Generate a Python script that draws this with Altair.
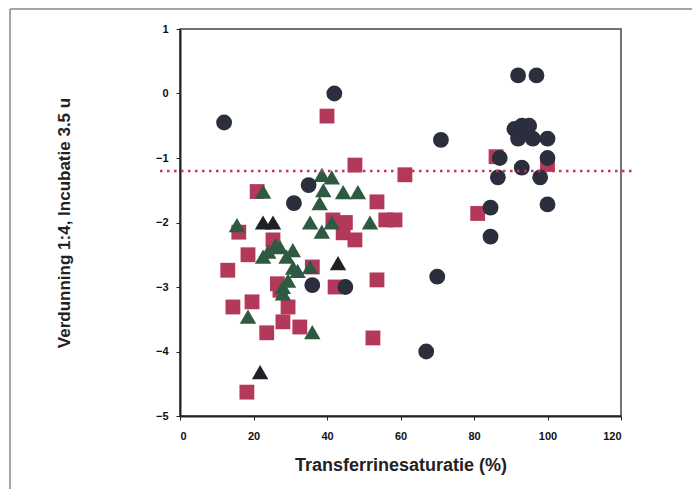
import altair as alt
import pandas as pd

# Series values
circle_x = [12, 42, 92, 97, 71, 91, 93, 95, 94, 92, 96, 100, 100, 87, 93, 86.5, 98, 100, 84.5, 84.5, 70, 67, 31, 35, 36, 45]
circle_y = [-0.45, 0.0, 0.28, 0.28, -0.72, -0.55, -0.5, -0.5, -0.6, -0.7, -0.7, -0.7, -1.0, -1.0, -1.15, -1.3, -1.3, -1.72, -1.77, -2.22, -2.84, -4.0, -1.7, -1.42, -2.97, -3.0]

square_x = [40, 47.6, 61.2, 86, 100, 81, 21, 53.6, 16, 41.6, 45, 56, 58.5, 44.4, 47.6, 13, 18.5, 25.3, 53.6, 42.2, 36, 14.4, 19.6, 23.6, 28, 29.4, 32.6, 52.5, 18.2, 27.2, 26.5]
square_y = [-0.35, -1.11, -1.26, -0.98, -1.1, -1.86, -1.52, -1.68, -2.15, -1.96, -2.0, -1.96, -1.96, -2.16, -2.27, -2.74, -2.5, -2.27, -2.89, -3.0, -2.69, -3.31, -3.23, -3.71, -3.54, -3.31, -3.62, -3.79, -4.63, -3.05, -2.95]

tri_x = [38.6, 41.3, 39, 44.4, 48.4, 38, 22.6, 15.5, 35.4, 38.6, 41.3, 51.7, 27.2, 22.6, 30.7, 29, 35.4, 30.8, 29.4, 28, 18.5, 36, 28, 26, 24, 32]
tri_y = [-1.26, -1.3, -1.5, -1.53, -1.53, -1.7, -1.52, -2.04, -2.0, -2.14, -2.0, -2.0, -2.38, -2.53, -2.43, -2.53, -2.69, -2.7, -2.9, -3.0, -3.46, -3.7, -3.1, -2.35, -2.45, -2.75]

dark_tri_x = [22.6, 25.3, 43, 21.8]
dark_tri_y = [-2.0, -2.0, -2.63, -4.32]

threshold = [-1.2]

x_ticks = [0, 20, 40, 60, 80, 100, 120]
y_ticks = [1, 0, -1, -2, -3, -4, -5]

FONT = "Liberation Sans"

circles = pd.DataFrame({"x": circle_x, "y": circle_y})
squares = pd.DataFrame({"x": square_x, "y": square_y})
tris = pd.DataFrame({"x": tri_x, "y": tri_y})
dtris = pd.DataFrame({"x": dark_tri_x, "y": dark_tri_y})
thr = pd.DataFrame({"y": threshold})

xenc = alt.X("x:Q", scale=alt.Scale(domain=[0, 120], nice=False),
             axis=alt.Axis(values=x_ticks, format="d", title="Transferrinesaturatie (%)", grid=False,
                           labelFont=FONT, labelFontWeight="bold", labelFontSize=11, labelColor="#111",
                           titleFont=FONT, titleFontWeight="bold", titleFontSize=18, titleColor="#222",
                           titlePadding=15, labelPadding=10, tickSize=4, tickColor="#222",
                           domainColor="#222", domainWidth=2))
yenc = alt.Y("y:Q", scale=alt.Scale(domain=[-5, 1], nice=False),
             axis=alt.Axis(values=y_ticks, format="d", title="Verdunning 1:4, Incubatie 3.5 u", grid=False,
                           labelFont=FONT, labelFontWeight="bold", labelFontSize=11, labelColor="#111",
                           titleFont=FONT, titleFontWeight="bold", titleFontSize=17, titleColor="#222",
                           titlePadding=82, labelPadding=8, tickSize=4, tickColor="#222",
                           domainColor="#222", domainWidth=2))

sq = alt.Chart(squares).mark_point(shape="square", filled=True, size=220, opacity=1,
                                    color="#b3395a").encode(x=xenc, y=yenc)
tr = alt.Chart(tris).mark_point(shape="triangle-up", filled=True, size=270, opacity=1,
                                 color="#2f5a42").encode(x="x:Q", y="y:Q")
dtr = alt.Chart(dtris).mark_point(shape="triangle-up", filled=True, size=270, opacity=1,
                                   color="#1e2125").encode(x="x:Q", y="y:Q")
ci = alt.Chart(circles).mark_point(shape="circle", filled=True, size=250, opacity=1,
                                    color="#2a2e3d").encode(x="x:Q", y="y:Q")

line = alt.Chart(thr).mark_rule(color="#c2365e", strokeWidth=2.5, strokeDash=[2.5, 4.5],
                                 clip=False).encode(y="y:Q", x=alt.value(-20), x2=alt.value(452))

frame_top = alt.Chart(thr).mark_rule(color="#888", strokeWidth=1.5, clip=False).encode(
    x=alt.value(-170), x2=alt.value(520), y=alt.value(-20))
frame_left = alt.Chart(thr).mark_rule(color="#888", strokeWidth=1.5, clip=False).encode(
    x=alt.value(-170), y=alt.value(-20), y2=alt.value(480))

chart = alt.layer(frame_top, frame_left, sq, tr, dtr, ci, line).properties(
    width=441, height=387,
    autosize=alt.AutoSizeParams(type="none"),
    padding={"left": 172, "top": 21, "right": 71, "bottom": 73},
    background="white",
).configure_view(stroke="#444", strokeWidth=1.5)

chart.save("out.html", embed_options={"renderer": "svg", "actions": False})
